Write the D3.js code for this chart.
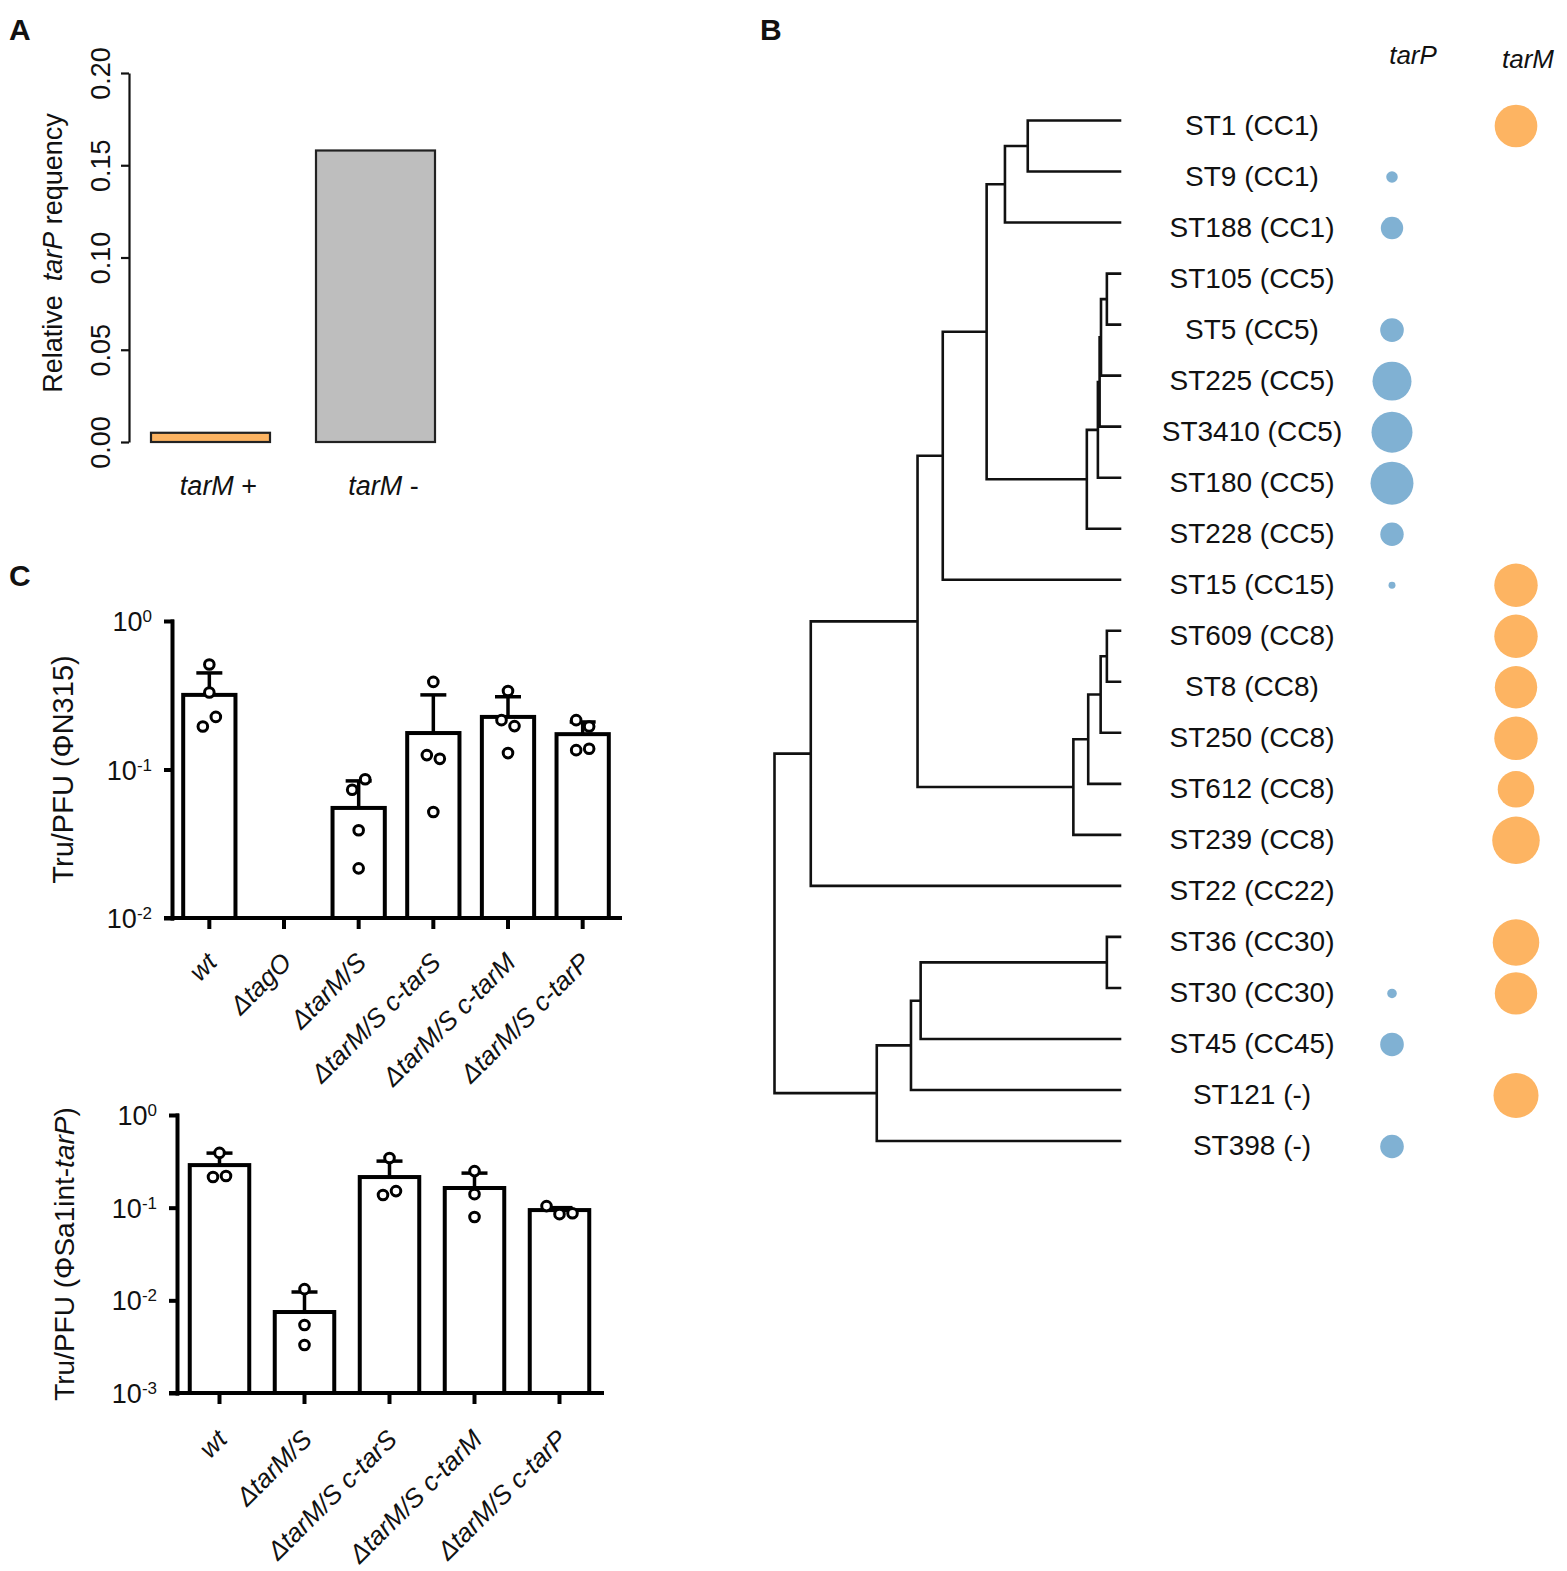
<!DOCTYPE html>
<html>
<head>
<meta charset="utf-8">
<script src="https://cdn.jsdelivr.net/npm/d3@7"></script>
<style>
  body { margin: 0; background: #fff; }
  text { font-family: "Liberation Sans", Arial, sans-serif; fill: #111; }
</style>
</head>
<body>
<div id="fig"></div>
<script>
// ---------- data ----------
// panel A
const aGroups = ["tarM +", "tarM -"];
const aValues = [0.005, 0.158];
const aTicks = [0, 0.05, 0.10, 0.15, 0.20];

// panel B
const leafOrder = ["ST1 (CC1)", "ST9 (CC1)", "ST188 (CC1)", "ST105 (CC5)", "ST5 (CC5)",
  "ST225 (CC5)", "ST3410 (CC5)", "ST180 (CC5)", "ST228 (CC5)", "ST15 (CC15)",
  "ST609 (CC8)", "ST8 (CC8)", "ST250 (CC8)", "ST612 (CC8)", "ST239 (CC8)",
  "ST22 (CC22)", "ST36 (CC30)", "ST30 (CC30)", "ST45 (CC45)", "ST121 (-)", "ST398 (-)"];
const tarPFreq = [0, 0.058, 0.218, 0, 0.242, 0.66, 0.73, 0.80, 0.237, 0.021,
  0, 0, 0, 0, 0, 0, 0, 0.04, 0.242, 0, 0.242];
const tarMFreq = [0.79, 0, 0, 0, 0, 0, 0, 0, 0, 0.82,
  0.82, 0.78, 0.82, 0.58, 0.98, 0, 0.94, 0.78, 0, 0.88, 0];
// [node, parent, distance from root (leaf = 1)]
const treeNodes = [
  ["root", null, 0],
  ["n1", "root", 0.105], ["n2", "root", 0.296],
  ["n3", "n1", 0.414], ["ST22 (CC22)", "n1", 1],
  ["n4", "n3", 0.487], ["n5", "n3", 0.865],
  ["n6", "n4", 0.614], ["ST15 (CC15)", "n4", 1],
  ["n7", "n6", 0.667], ["n8", "n6", 0.904],
  ["n9", "n7", 0.733], ["ST188 (CC1)", "n7", 1],
  ["ST1 (CC1)", "n9", 1], ["ST9 (CC1)", "n9", 1],
  ["n10", "n8", 0.936], ["ST228 (CC5)", "n8", 1],
  ["n11", "n10", 0.941], ["ST180 (CC5)", "n10", 1],
  ["n12", "n11", 0.945], ["ST3410 (CC5)", "n11", 1],
  ["n13", "n12", 0.962], ["ST225 (CC5)", "n12", 1],
  ["ST105 (CC5)", "n13", 1], ["ST5 (CC5)", "n13", 1],
  ["n14", "n5", 0.908], ["ST239 (CC8)", "n5", 1],
  ["n15", "n14", 0.944], ["ST612 (CC8)", "n14", 1],
  ["n16", "n15", 0.962], ["ST250 (CC8)", "n15", 1],
  ["ST609 (CC8)", "n16", 1], ["ST8 (CC8)", "n16", 1],
  ["n17", "n2", 0.395], ["ST398 (-)", "n2", 1],
  ["n18", "n17", 0.423], ["ST121 (-)", "n17", 1],
  ["n19", "n18", 0.962], ["ST45 (CC45)", "n18", 1],
  ["ST36 (CC30)", "n19", 1], ["ST30 (CC30)", "n19", 1]
];

// panel C, top (phage N315)
const c1Strains = ["wt", "ΔtagO", "ΔtarM/S", "ΔtarM/S c-tarS", "ΔtarM/S c-tarM", "ΔtarM/S c-tarP"];
const c1Means = [0.318, null, 0.0551, 0.176, 0.226, 0.173];
const c1Upper = [0.447, null, 0.0838, 0.318, 0.309, 0.209];
const c1Points = [[0.51, 0.33, 0.195, 0.226], [], [0.073, 0.086, 0.039, 0.0216],
  [0.389, 0.125, 0.118, 0.0517], [0.338, 0.215, 0.196, 0.129], [0.215, 0.195, 0.135, 0.138]];
const c1Ticks = [1, 0.1, 0.01];

// panel C, bottom (phage Sa1int-tarP)
const c2Strains = ["wt", "ΔtarM/S", "ΔtarM/S c-tarS", "ΔtarM/S c-tarM", "ΔtarM/S c-tarP"];
const c2Means = [0.288, 0.00748, 0.214, 0.163, 0.0942];
const c2Upper = [0.388, 0.0123, 0.318, 0.236, 0.1];
const c2Points = [[0.39, 0.214, 0.22], [0.0132, 0.00542, 0.0033], [0.343, 0.137, 0.151],
  [0.248, 0.14, 0.0793], [0.104, 0.0851, 0.087]];
const c2Ticks = [1, 0.1, 0.01, 0.001];

const orange = "#fdb462", blue = "#80b1d3", grey = "#bebebe";

// ---------- svg ----------
const width = 1567, height = 1571;
const svg = d3.select("#fig").append("svg")
  .attr("width", width).attr("height", height);
svg.append("rect").attr("width", width).attr("height", height).attr("fill", "#fff");

// panel letters
[["A", 9, 40], ["B", 760, 40], ["C", 9, 586]].forEach(p => {
  svg.append("text").attr("x", p[1]).attr("y", p[2])
    .attr("font-size", 30).attr("font-weight", "bold").text(p[0]);
});

// ---------- panel A ----------
const yA = d3.scaleLinear().domain([0, 0.2]).range([442, 73]);
const xA = d3.scaleBand().domain(aGroups).range([128, 458]).paddingInner(0.2788).paddingOuter(0.1394);

const axA = svg.append("g").attr("transform", "translate(129,0)")
  .call(d3.axisLeft(yA).tickValues(aTicks).tickSize(8).tickSizeOuter(0).tickFormat(d3.format(".2f")));
axA.selectAll("path, line").attr("stroke", "#111").attr("stroke-width", 2.2);
axA.selectAll("text")
  .attr("x", null).attr("dy", null)
  .attr("text-anchor", "middle")
  .attr("transform", "translate(-19,0) rotate(-90)")
  .attr("font-size", 27).attr("font-family", "Liberation Sans, Arial, sans-serif").attr("fill", "#111");

svg.selectAll(".barA").data(aGroups).enter().append("rect")
  .attr("x", d => xA(d))
  .attr("y", (d, i) => yA(aValues[i]))
  .attr("width", xA.bandwidth())
  .attr("height", (d, i) => yA(0) - yA(aValues[i]))
  .attr("fill", (d, i) => i === 0 ? orange : grey)
  .attr("stroke", "#222").attr("stroke-width", 2.2);

aGroups.forEach(g => {
  const parts = g.split(" ");
  const t = svg.append("text").attr("x", xA(g) + xA.bandwidth() / 2 + 8).attr("y", 495)
    .attr("text-anchor", "middle").attr("font-size", 27);
  t.append("tspan").attr("font-style", "italic").text(parts[0]);
  t.append("tspan").text(" " + parts[1]);
});

const ylabA = svg.append("text").attr("transform", "translate(62,253) rotate(-90)")
  .attr("text-anchor", "middle").attr("font-size", 27);
ylabA.append("tspan").text("Relative");
ylabA.append("tspan").attr("dx", 14).attr("font-style", "italic").text("tarP");
ylabA.append("tspan").text(" requency");

// ---------- panel B ----------
const yB = d3.scalePoint().domain(leafOrder).range([120.5, 1141]);
const xB = d3.scaleLinear().domain([0, 1]).range([774.5, 1120]);

const root = d3.stratify().id(d => d[0]).parentId(d => d[1])(treeNodes);
root.eachAfter(n => {
  n.px = xB(n.data[2]);
  n.py = n.children ? d3.mean(n.children, c => c.py) : yB(n.id);
});
let treePath = "";
root.each(n => {
  if (n.parent) treePath += `M${n.parent.px},${n.py}H${n.px}`;
  if (n.children) {
    const ys = n.children.map(c => c.py);
    treePath += `M${n.px},${d3.min(ys)}V${d3.max(ys)}`;
  }
});
svg.append("path").attr("d", treePath).attr("fill", "none")
  .attr("stroke", "#111").attr("stroke-width", 2.6).attr("stroke-linecap", "square");

svg.selectAll(".leaf").data(leafOrder).enter().append("text")
  .attr("x", 1252).attr("y", d => yB(d) + 14)
  .attr("text-anchor", "middle").attr("font-size", 28).text(d => d);

const rB = d3.scaleSqrt().domain([0, 1]).range([0, 24]);
svg.selectAll(".tarP").data(leafOrder).enter().append("circle")
  .attr("cx", 1392).attr("cy", d => yB(d) + 5.5)
  .attr("r", (d, i) => rB(tarPFreq[i])).attr("fill", blue);
svg.selectAll(".tarM").data(leafOrder).enter().append("circle")
  .attr("cx", 1516).attr("cy", d => yB(d) + 5.5)
  .attr("r", (d, i) => rB(tarMFreq[i])).attr("fill", orange);

svg.append("text").attr("x", 1413).attr("y", 64).attr("text-anchor", "middle")
  .attr("font-size", 26).attr("font-style", "italic").text("tarP");
svg.append("text").attr("x", 1528).attr("y", 68).attr("text-anchor", "middle")
  .attr("font-size", 26).attr("font-style", "italic").text("tarM");

// ---------- panel C ----------
function logPanel(opt) {
  const y = d3.scaleLog().domain(opt.domain).range([opt.bottom, opt.top]);
  const x = d3.scaleBand().domain(opt.strains).range(opt.xrange)
    .paddingInner(0.3).paddingOuter(0.15);
  const g = svg.append("g");

  // bars
  g.selectAll(".bar").data(opt.strains.filter((s, i) => opt.means[i] != null)).enter().append("rect")
    .attr("x", d => x(d))
    .attr("y", d => y(opt.means[opt.strains.indexOf(d)]))
    .attr("width", x.bandwidth())
    .attr("height", d => opt.bottom - y(opt.means[opt.strains.indexOf(d)]))
    .attr("fill", "#fff").attr("stroke", "#000").attr("stroke-width", 4);

  // error bars (upper only)
  opt.strains.forEach((s, i) => {
    if (opt.means[i] == null) return;
    const cx = x(s) + x.bandwidth() / 2;
    g.append("line").attr("x1", cx).attr("x2", cx)
      .attr("y1", y(opt.means[i])).attr("y2", y(opt.upper[i]))
      .attr("stroke", "#000").attr("stroke-width", 3.5);
    g.append("line").attr("x1", cx - 13).attr("x2", cx + 13)
      .attr("y1", y(opt.upper[i])).attr("y2", y(opt.upper[i]))
      .attr("stroke", "#000").attr("stroke-width", 3.5);
  });

  // axes
  const gy = g.append("g").attr("transform", `translate(${opt.xrange[0]},0)`)
    .call(d3.axisLeft(y).tickValues(opt.ticks).tickSize(6).tickSizeOuter(0).tickFormat(""));
  const gx = g.append("g").attr("transform", `translate(0,${opt.bottom})`)
    .call(d3.axisBottom(x).tickSize(9).tickSizeOuter(0));
  gx.select(".domain").attr("d", `M${opt.xrange[0] - 6},0H${opt.xrange[1]}`);
  [gy, gx].forEach(a => a.selectAll("path, line").attr("stroke", "#000").attr("stroke-width", 4)
    .attr("stroke-linecap", "square"));
  gx.selectAll("text")
    .attr("y", null).attr("dy", null)
    .attr("transform", `translate(9,${opt.labelDrop}) rotate(-45)`)
    .attr("text-anchor", "end")
    .attr("font-family", "Lato, sans-serif").attr("font-style", "italic")
    .attr("font-size", 26).attr("fill", "#111");

  opt.ticks.forEach(t => {
    const lab = g.append("text").attr("x", opt.xrange[0] - 20).attr("y", y(t) + 10)
      .attr("text-anchor", "end").attr("font-size", 27);
    lab.append("tspan").text("10");
    lab.append("tspan").attr("dy", -9).attr("font-size", 17).text(String(Math.round(Math.log10(t))));
  });

  // data points, spread sideways when they overlap
  opt.strains.forEach((s, i) => {
    const cx = x(s) + x.bandwidth() / 2;
    const pts = opt.points[i].map((v, k) => ({ v, k, py: y(v) }));
    const sorted = pts.slice().sort((a, b) => a.py - b.py);
    const clusters = [];
    sorted.forEach(p => {
      const last = clusters[clusters.length - 1];
      if (last && p.py - last[last.length - 1].py < 12) last.push(p);
      else clusters.push([p]);
    });
    clusters.forEach(cl => {
      cl.sort((a, b) => a.k - b.k);
      cl.forEach((p, j) => { p.px = cx + (j - (cl.length - 1) / 2) * 13; });
    });
    g.selectAll(null).data(pts).enter().append("circle")
      .attr("cx", p => p.px).attr("cy", p => p.py).attr("r", 4.8)
      .attr("fill", "#fff").attr("stroke", "#000").attr("stroke-width", 3);
  });

  const yl = svg.append("text")
    .attr("transform", `translate(${opt.ylabX},${(opt.top + opt.bottom) / 2}) rotate(-90)`)
    .attr("text-anchor", "middle").attr("font-size", opt.ylabSize);
  opt.ylab.forEach(p => yl.append("tspan").attr("font-style", p[1] ? "italic" : null).text(p[0]));
}

logPanel({
  strains: c1Strains, means: c1Means, upper: c1Upper, points: c1Points, ticks: c1Ticks,
  domain: [0.01, 1], top: 621, bottom: 918, xrange: [172, 620], labelDrop: 46,
  ylabX: 73, ylabSize: 29, ylab: [["Tru/PFU (ΦN315)", false]]
});
logPanel({
  strains: c2Strains, means: c2Means, upper: c2Upper, points: c2Points, ticks: c2Ticks,
  domain: [0.001, 1], top: 1115, bottom: 1393, xrange: [177, 602], labelDrop: 48,
  ylabX: 74, ylabSize: 28, ylab: [["Tru/PFU (ΦSa1int-", false], ["tarP", true], [")", false]]
});
</script>
</body>
</html>
